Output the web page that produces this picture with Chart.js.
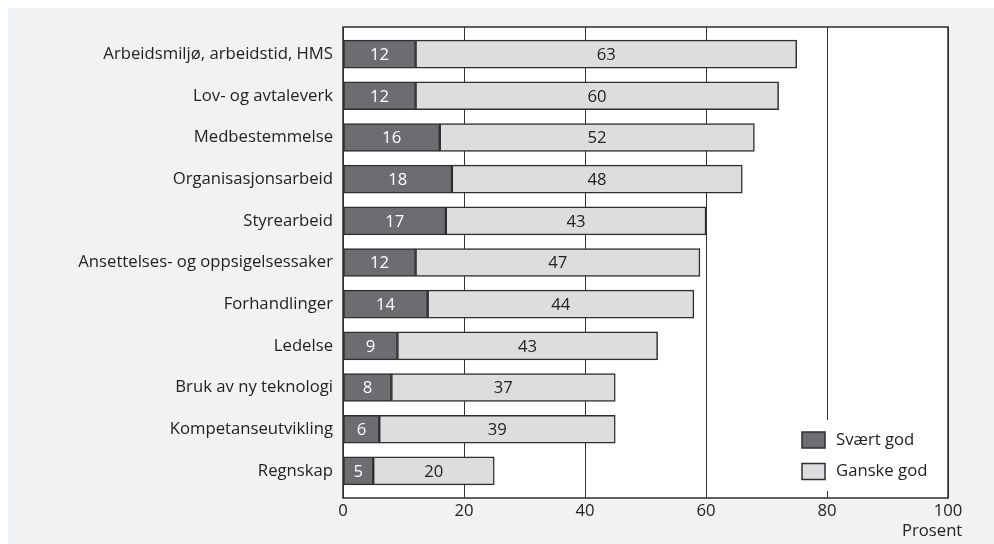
<!DOCTYPE html>
<html><head><meta charset="utf-8">
<script src="https://cdn.jsdelivr.net/npm/chart.js@4.4.1/dist/chart.umd.min.js"></script>
<style>html,body{margin:0;padding:0;background:#fff}canvas{display:block}</style>
</head><body><canvas id="c" width="994" height="544"></canvas>
<script>
const categories = [
  'Arbeidsmiljø, arbeidstid, HMS',
  'Lov- og avtaleverk',
  'Medbestemmelse',
  'Organisasjonsarbeid',
  'Styrearbeid',
  'Ansettelses- og oppsigelsessaker',
  'Forhandlinger',
  'Ledelse',
  'Bruk av ny teknologi',
  'Kompetanseutvikling',
  'Regnskap'
];
const svaertGod = [12, 12, 16, 18, 17, 12, 14, 9, 8, 6, 5];
const ganskeGod = [63, 60, 52, 48, 43, 47, 44, 43, 37, 39, 20];
const seriesNames = ['Svært god', 'Ganske god'];
const xTicks = [0, 20, 40, 60, 80, 100];
const axisTitle = 'Prosent';

const FONT = 'Open Sans';
const FS = 16.7;
const DARK = '#6c6d70';
const LIGHT = '#dcdddf';
const EDGE = '#2e2e2e';

const toPoints = arr => arr.map((v, i) => ({ x: v, y: i }));

const bgPlugin = {
  id: 'bg',
  beforeDraw(chart) {
    const { ctx, chartArea: a } = chart;
    ctx.save();
    ctx.fillStyle = '#f1f2f4';
    ctx.fillRect(8, 8, chart.width - 8, chart.height - 8);
    ctx.fillStyle = '#ffffff';
    ctx.fillRect(a.left, a.top, a.right - a.left, a.bottom - a.top);
    ctx.restore();
  }
};

const frameAndLabels = {
  id: 'frameLabels',
  afterDatasetsDraw(chart) {
    const { ctx, chartArea: a } = chart;
    ctx.save();
    ctx.strokeStyle = EDGE;
    ctx.lineWidth = 1.5;
    ctx.strokeRect(a.left, a.top, a.right - a.left, a.bottom - a.top);
    ctx.font = `${FS}px "${FONT}"`;
    ctx.textAlign = 'center';
    ctx.textBaseline = 'middle';
    chart.data.datasets.forEach((ds, di) => {
      const meta = chart.getDatasetMeta(di);
      meta.data.forEach((el, i) => {
        const p = el.getProps(['x', 'y', 'base'], true);
        ctx.fillStyle = di === 0 ? '#ffffff' : '#222222';
        ctx.fillText(String(ds.data[i].x), (p.x + p.base) / 2, p.y + 1);
      });
    });
    ctx.restore();
  },
  afterDraw(chart) {
    const { ctx, chartArea: a, scales } = chart;
    ctx.save();
    const bx = 790, by = 420, bw = a.right - 1 - bx, bh = 71;
    ctx.fillStyle = '#ffffff';
    ctx.fillRect(bx, by, bw, bh);
    ctx.font = `${FS}px "${FONT}"`;
    ctx.textBaseline = 'middle';
    ctx.textAlign = 'left';
    chart.data.datasets.forEach((ds, di) => {
      const y = 440 + di * 31.5;
      ctx.fillStyle = ds.backgroundColor;
      ctx.fillRect(802, y - 8, 23, 16);
      ctx.strokeStyle = EDGE;
      ctx.lineWidth = 1.5;
      ctx.strokeRect(802, y - 8, 23, 16);
      ctx.fillStyle = '#222222';
      ctx.fillText(ds.label, 836, y);
    });
    const xs = scales.x;
    const w100 = ctx.measureText(String(xTicks[xTicks.length - 1])).width;
    ctx.textAlign = 'right';
    ctx.fillText(axisTitle, xs.getPixelForValue(xTicks[xTicks.length - 1]) + w100 / 2, 531);
    ctx.restore();
  }
};

new Chart(document.getElementById('c'), {
  type: 'bar',
  data: {
    datasets: [
      { label: seriesNames[0], data: toPoints(svaertGod), backgroundColor: DARK, borderColor: EDGE, borderWidth: 1.5, borderSkipped: false, barThickness: 28 },
      { label: seriesNames[1], data: toPoints(ganskeGod), backgroundColor: LIGHT, borderColor: EDGE, borderWidth: 1.5, borderSkipped: false, barThickness: 28 }
    ]
  },
  options: {
    indexAxis: 'y',
    responsive: false,
    animation: false,
    devicePixelRatio: 1,
    layout: { padding: { top: 27, right: 46, bottom: 0, left: 0 } },
    plugins: { legend: { display: false }, tooltip: { enabled: false } },
    scales: {
      x: {
        type: 'linear',
        stacked: true,
        min: xTicks[0],
        max: xTicks[xTicks.length - 1],
        afterBuildTicks: s => { s.ticks = xTicks.map(v => ({ value: v })); },
        afterFit: s => { s.height = 46; },
        ticks: { font: { family: FONT, size: FS }, color: '#222', padding: 3 },
        grid: { color: '#333', lineWidth: 1, drawTicks: false },
        border: { display: false }
      },
      y: {
        type: 'linear',
        stacked: true,
        reverse: true,
        offset: false,
        min: -0.65,
        max: categories.length - 1 + 0.65,
        afterBuildTicks: s => { s.ticks = categories.map((_, i) => ({ value: i })); },
        afterFit: s => { s.width = 343; },
        ticks: { autoSkip: false, font: { family: FONT, size: FS }, color: '#222', padding: 10, callback: v => categories[v] },
        grid: { display: false, drawTicks: false },
        border: { display: false }
      }
    }
  },
  plugins: [bgPlugin, frameAndLabels]
});
</script>
</body></html>
